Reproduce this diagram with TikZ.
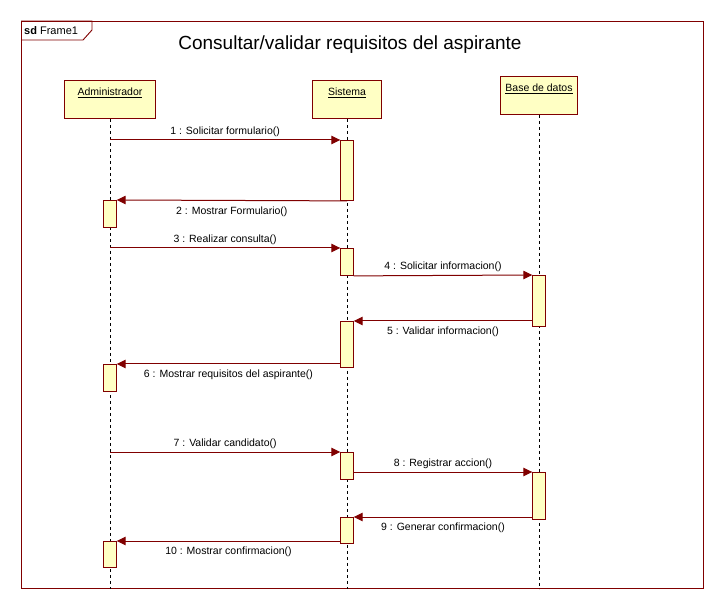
\documentclass[tikz,border=0pt]{standalone}
\usepackage{fontspec}
\setmainfont{Liberation Sans}
\usepackage{tikz}
\usetikzlibrary{calc,arrows.meta}
\definecolor{sdred}{RGB}{128,0,0}
\definecolor{sdyellow}{RGB}{255,255,196}
\tikzset{x=1pt, y=-1pt,
  sdframe/.style={draw=sdred, line width=0.9pt, minimum width=682, minimum height=567, inner sep=0pt},
  head/.style={draw=sdred, fill=sdyellow, line width=0.9pt, inner sep=0pt, anchor=north,
       text height=15pt, text depth=23pt, font=\fontsize{10.5}{12}\selectfont},
  act/.style={draw=sdred, fill=sdyellow, line width=0.9pt, inner sep=0pt, anchor=north, minimum width=12.5},
  lifeline/.style={draw=black, line width=0.7pt, dash pattern=on 3pt off 3pt},
  msg/.style={draw=sdred, line width=1pt, -{Triangle[length=9pt,width=8.5pt]}},
  msg label/.style={font=\fontsize{10.5}{12}\selectfont, text=black, inner sep=3pt},
  msg above/.style={msg label, midway, above},
  msg below/.style={msg label, midway, below, yshift=-2.5pt}
}
% activation box on a lifeline: name, lifeline, top, bottom
\def\Act#1#2#3#4{%
 \node[act, minimum height={#4-#3}] (#1) at (#2 |- 0,#3) {};
}

\begin{document}
\begin{tikzpicture}
\useasboundingbox (0,0) rectangle (723,609);
\node[sdframe, anchor=north west] (frame) at (21,21) {};
\draw[sdred, line width=0.9pt] (frame.north west) -- ++(71,0) -- ++(0,9) -- ++(-9,10) -- ++(-62,0);
\node[anchor=base west, inner sep=0pt, font=\fontsize{11}{12}\selectfont] (tab) at (24,35) {\textbf{sd} Frame1};
\node[font=\fontsize{19}{22}\selectfont] (title) at (350,45) {Consultar/validar requisitos del aspirante};

% heads
\node[head, minimum width=91] (adm) at (110,80) {\underline{Administrador}};
\node[head, minimum width=69] (sis) at (347,80) {\underline{Sistema}};
\node[head, minimum width=77] (bd) at (539,76) {\underline{Base de datos}};

% lifelines
\draw[lifeline] (adm.south) -- (adm.south |- frame.south);
\draw[lifeline] (sis.south) -- (sis.south |- frame.south);
\draw[lifeline] (bd.south) -- (bd.south |- frame.south);

% activations
\Act{s1}{sis}{140}{200}
\Act{a1}{adm}{200}{227}
\Act{s2}{sis}{248}{275}
\Act{d1}{bd}{275}{326}
\Act{s3}{sis}{321}{367}
\Act{a2}{adm}{364}{391}
\Act{s4}{sis}{452}{479}
\Act{d2}{bd}{472}{519}
\Act{s5}{sis}{517}{543}
\Act{a3}{adm}{541}{567}

% messages
\draw[msg] (adm |- s1.north) -- (s1.north west) node[msg above] (m1) {1 : Solicitar formulario()};
\draw[msg] (s1.south) -- (a1.north east) node[msg below] (m2) {2 : Mostrar Formulario()};
\draw[msg] (adm |- s2.north) -- (s2.north west) node[msg above] (m3) {3 : Realizar consulta()};
\draw[msg] (s2.south east) -- (d1.north west) node[msg above] (m4) {4 : Solicitar informacion()};
\draw[msg] (d1.west |- s3.north) -- (s3.north east) node[msg below] (m5) {5 : Validar informacion()};
\draw[msg] (s3.west |- a2.north) -- (a2.north east) node[msg below] (m6) {6 : Mostrar requisitos del aspirante()};
\draw[msg] (adm |- s4.north) -- (s4.north west) node[msg above] (m7) {7 : Validar candidato()};
\draw[msg] (s4.east |- d2.north) -- (d2.north west) node[msg above] (m8) {8 : Registrar accion()};
\draw[msg] (d2.west |- s5.north) -- (s5.north east) node[msg below] (m9) {9 : Generar confirmacion()};
\draw[msg] (s5.west |- a3.north) -- (a3.north east) node[msg below] (m10) {10 : Mostrar confirmacion()};
\end{tikzpicture}
\end{document}
